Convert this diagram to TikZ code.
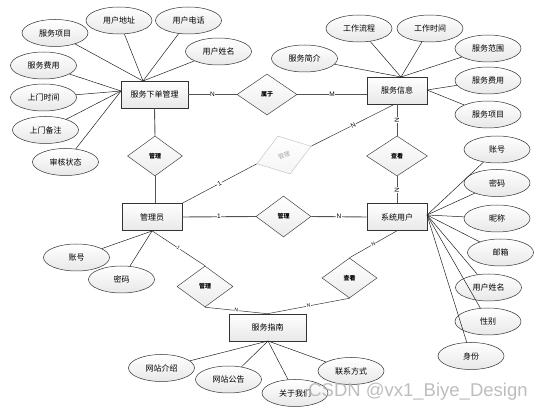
\documentclass[tikz,border=0pt]{standalone}
\usepackage{fontspec}
\setmainfont{Liberation Sans}
\newfontfamily\cjk{Noto Sans CJK SC}
\usetikzlibrary{shapes.geometric}
\begin{document}
\begin{tikzpicture}[x=1pt,y=-1pt,
  ent/.style={draw=gray!40!black, line width=0.6pt, top color=white, bottom color=gray!18,
    minimum width=60pt, minimum height=27pt, inner sep=0pt, font=\cjk\fontsize{8}{8}\selectfont},
  attr/.style={ellipse, draw=gray!40!black, line width=0.5pt, top color=white, bottom color=gray!18,
    minimum width=66pt, minimum height=27pt, inner sep=0pt, font=\cjk\fontsize{8}{8}\selectfont},
  rel/.style={diamond, draw=gray!55!black, line width=0.5pt, top color=white, bottom color=gray!15,
    minimum width=56pt, minimum height=41pt, inner sep=0pt, font=\cjk\bfseries\fontsize{6}{6}\selectfont},
  erline/.style={draw=gray!65!black, line width=0.9pt},
  aline/.style={draw=gray!25!black, line width=0.5pt},
  lbl/.style={fill=white, inner sep=0.6pt, font=\fontsize{6.5}{6.5}\selectfont},
  wm/.style={text=gray!60, opacity=0.85, font=\fontsize{18.5}{18.5}\selectfont}
]
\useasboundingbox (0,0) rectangle (541,411);

% entities
\node[ent, minimum width=67pt] (b1) at (154.5,94.5) {服务下单管理};
\node[ent] (b2) at (397,90.5) {服务信息};
\node[ent] (b3) at (397,217) {系统用户};
\node[ent] (b4) at (152,217) {管理员};
\node[ent, minimum width=77pt] (b5) at (267.5,327.5) {服务指南};

% relationships
\node[rel, minimum width=60pt] (r1) at (267,94.5) {属于};
\node[rel, minimum width=55pt, minimum height=40pt] (r2) at (155,156) {管理};
\node[rel, minimum width=57pt, minimum height=40pt, rotate=18, draw=gray!45, top color=white, bottom color=gray!8, text=gray!70, font=\cjk\fontsize{6}{6}\selectfont] (r3) at (284,155) {管理};
\node[rel, minimum width=61pt, minimum height=40pt] (r4) at (397,156) {查看};
\node[rel, minimum width=55pt] (r5) at (283.5,216.5) {管理};
\node[rel] (r6) at (205,286.5) {管理};
\node[rel, minimum width=55pt, minimum height=40pt] (r7) at (349.5,278) {查看};

% attributes of 服务下单管理
\node[attr] (a1) at (55,33) {服务项目};
\node[attr] (a2) at (119,20.5) {用户地址};
\node[attr] (a3) at (188.5,20.5) {用户电话};
\node[attr] (a4) at (218.5,51.5) {用户姓名};
\node[attr] (a5) at (43.5,65.5) {服务费用};
\node[attr] (a6) at (43.5,97.5) {上门时间};
\node[attr] (a7) at (45.5,130) {上门备注};
\node[attr] (a8) at (65.5,162) {审核状态};
\coordinate (b1t) at (143,81);
\coordinate (b1l) at (121,91);
\foreach \a in {a1,a2,a3,a4} \draw[aline] (\a) -- (b1t);
\foreach \a in {a5,a6,a7,a8} \draw[aline] (\a) -- (b1l);

% attributes of 服务信息
\node[attr] (c1) at (304.5,58.5) {服务简介};
\node[attr] (c2) at (359,28.5) {工作流程};
\node[attr] (c3) at (430,28.5) {工作时间};
\node[attr] (c4) at (488,48.5) {服务范围};
\node[attr] (c5) at (488,80.5) {服务费用};
\node[attr] (c6) at (488,114.5) {服务项目};
\coordinate (b2t) at (401,77);
\coordinate (b2r) at (427,90);
\foreach \a in {c1,c2,c3,c4} \draw[aline] (\a) -- (b2t);
\foreach \a in {c5,c6} \draw[aline] (\a) -- (b2r);

% attributes of 系统用户
\node[attr] (d1) at (497,149.5) {账号};
\node[attr] (d2) at (497,183) {密码};
\node[attr] (d3) at (497,218.5) {昵称};
\node[attr] (d4) at (500.5,252.5) {邮箱};
\node[attr] (d5) at (488.5,287.5) {用户姓名};
\node[attr] (d6) at (488,321.5) {性别};
\node[attr] (d7) at (471,356) {身份};
\coordinate (b3r) at (427,215);
\foreach \a in {d1,d2,d3,d4,d5,d6,d7} \draw[aline] (\a) -- (b3r);

% attributes of 管理员
\node[attr] (e1) at (76.5,257.5) {账号};
\node[attr] (e2) at (121.5,279.5) {密码};
\coordinate (b4b) at (152,231);
\foreach \a in {e1,e2} \draw[aline] (\a) -- (b4b);

% attributes of 服务指南
\node[attr] (f1) at (161.5,368) {网站介绍};
\node[attr] (f2) at (228.5,379.5) {网站公告};
\node[attr] (f3) at (295,393) {关于我们};
\node[attr] (f4) at (351,371) {联系方式};
\coordinate (b5b) at (268,341);
\foreach \a in {f1,f2,f3,f4} \draw[aline] (\a) -- (b5b);

% relationship lines
\draw[erline] (b1.east) -- node[lbl]{N} (r1.west);
\draw[erline] (r1.east) -- node[lbl]{M} (r1.east -| b2.west);
\draw[erline] (b1.south) -- (r2.north);
\draw[erline] (r2.south) -- (r2.south |- b4.north);
\coordinate (b2b) at (395,104);
\draw[aline, draw=gray!40!black] (b4.north east) -- node[lbl, sloped]{1} (r3.west);
\draw[aline, draw=gray!40!black] (r3.east) -- node[lbl, sloped]{N} (b2b);
\draw[erline] (b2.south) -- node[lbl, rotate=90]{N} (r4.north);
\draw[erline] (r4.south) -- node[lbl, rotate=90]{N} (b3.north);
\draw[erline] (b4.east) -- node[lbl]{1} (r5.west);
\draw[erline] (r5.east) -- node[lbl]{N} (b3.west);
\draw[aline, draw=gray!40!black] (b4.south) -- node[lbl, sloped, font=\fontsize{5}{5}\selectfont]{1} (r6.north);
\draw[aline, draw=gray!40!black] (r6.south) -- node[lbl, sloped, font=\fontsize{5}{5}\selectfont]{N} (b5.north);
\draw[aline, draw=gray!40!black] (b3.south) -- node[lbl, sloped, font=\fontsize{5}{5}\selectfont]{N} (r7.north);
\draw[aline, draw=gray!40!black] (r7.south) -- node[lbl, sloped, font=\fontsize{5}{5}\selectfont]{N} (b5.north);

% watermark
\node[wm] (wm) at (418,392) {CSDN @vx1\_Biye\_Design};
\end{tikzpicture}
\end{document}
